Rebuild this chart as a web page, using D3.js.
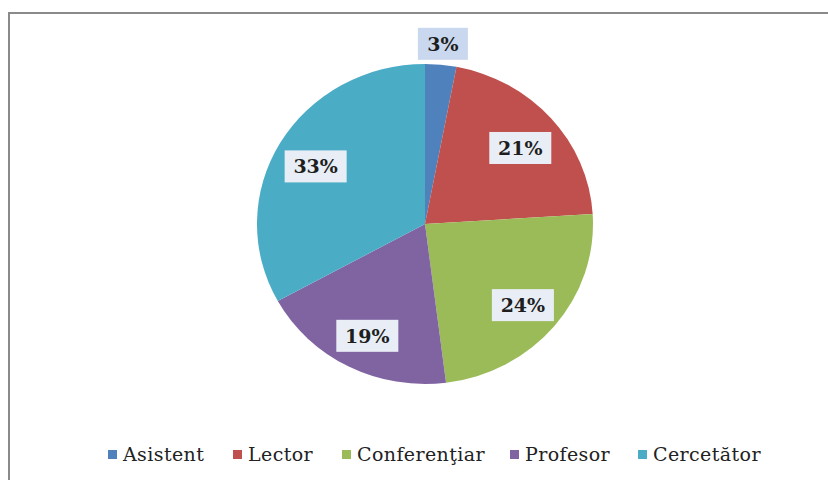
<!DOCTYPE html>
<html>
<head>
<meta charset="utf-8">
<script src="https://cdn.jsdelivr.net/npm/d3@7"></script>
<style>
  body { margin: 0; background: #fff; }
  svg { display: block; }
</style>
</head>
<body>
<script>
// Chart data
var categories = ['Asistent', 'Lector', 'Conferenţiar', 'Profesor', 'Cercetător'];
var values = [3, 21, 24, 19, 33];
var colors = ['#4F81BD', '#C0504D', '#9BBB59', '#8064A2', '#4BACC6'];

var width = 828, height = 480;
var cx = 425, cy = 224, radius = 160, stretchX = 1.05;

var svg = d3.select('body').append('svg')
  .attr('width', width)
  .attr('height', height);

// outer frame of the chart area (runs off the right and bottom)
svg.append('rect')
  .attr('x', 9).attr('y', 13)
  .attr('width', 900).attr('height', 600)
  .attr('fill', '#fff')
  .attr('stroke', '#8a8a8a')
  .attr('stroke-width', 2);

var pie = d3.pie().sort(null).value(function(d) { return d; });
var arcs = pie(values);
var arc = d3.arc().innerRadius(0).outerRadius(radius);
var labelArc = d3.arc().innerRadius(121).outerRadius(121);
var outerArc = d3.arc().innerRadius(181).outerRadius(181);

var g = svg.append('g')
  .attr('transform', 'translate(' + cx + ',' + cy + ') scale(' + stretchX + ',1)');

g.selectAll('path.slice')
  .data(arcs)
  .enter().append('path')
  .attr('class', 'slice')
  .attr('d', arc)
  .attr('fill', function(d, i) { return colors[i]; });

// labels, drawn unscaled
var lg = svg.append('g');
var labels = lg.selectAll('g.lbl')
  .data(arcs)
  .enter().append('g')
  .attr('class', 'lbl')
  .attr('transform', function(d) {
    var small = d.value < 5;
    var c = small ? outerArc.centroid(d) : labelArc.centroid(d);
    return 'translate(' + (cx + c[0] * stretchX) + ',' + (cy + c[1] + (small ? 0 : 4)) + ')';
  });

labels.append('rect')
  .attr('x', function(d) { return d.value < 10 ? -25 : -31; })
  .attr('y', -16)
  .attr('width', function(d) { return d.value < 10 ? 50 : 62; })
  .attr('height', 32)
  .attr('fill', function(d) { return d.value < 5 ? '#c9d8ee' : '#e9eef6'; });

labels.append('text')
  .attr('text-anchor', 'middle')
  .attr('dy', '0.36em')
  .style('font-family', '"DejaVu Serif", serif')
  .style('font-weight', 'bold')
  .style('font-size', '19px')
  .attr('fill', '#1e1e1e')
  .text(function(d) { return d.value + '%'; });

// legend
var legendX = [108, 233, 342, 510, 638];
var legend = svg.selectAll('g.leg')
  .data(categories)
  .enter().append('g')
  .attr('class', 'leg')
  .attr('transform', function(d, i) { return 'translate(' + legendX[i] + ',461)'; });

legend.append('rect')
  .attr('x', 0).attr('y', -11)
  .attr('width', 9).attr('height', 9)
  .attr('fill', function(d, i) { return colors[i]; });

legend.append('text')
  .attr('x', 15)
  .style('font-family', '"DejaVu Serif", serif')
  .style('font-size', '19px')
  .style('letter-spacing', '0.4px')
  .attr('fill', '#222')
  .text(function(d) { return d; });
</script>
</body>
</html>
